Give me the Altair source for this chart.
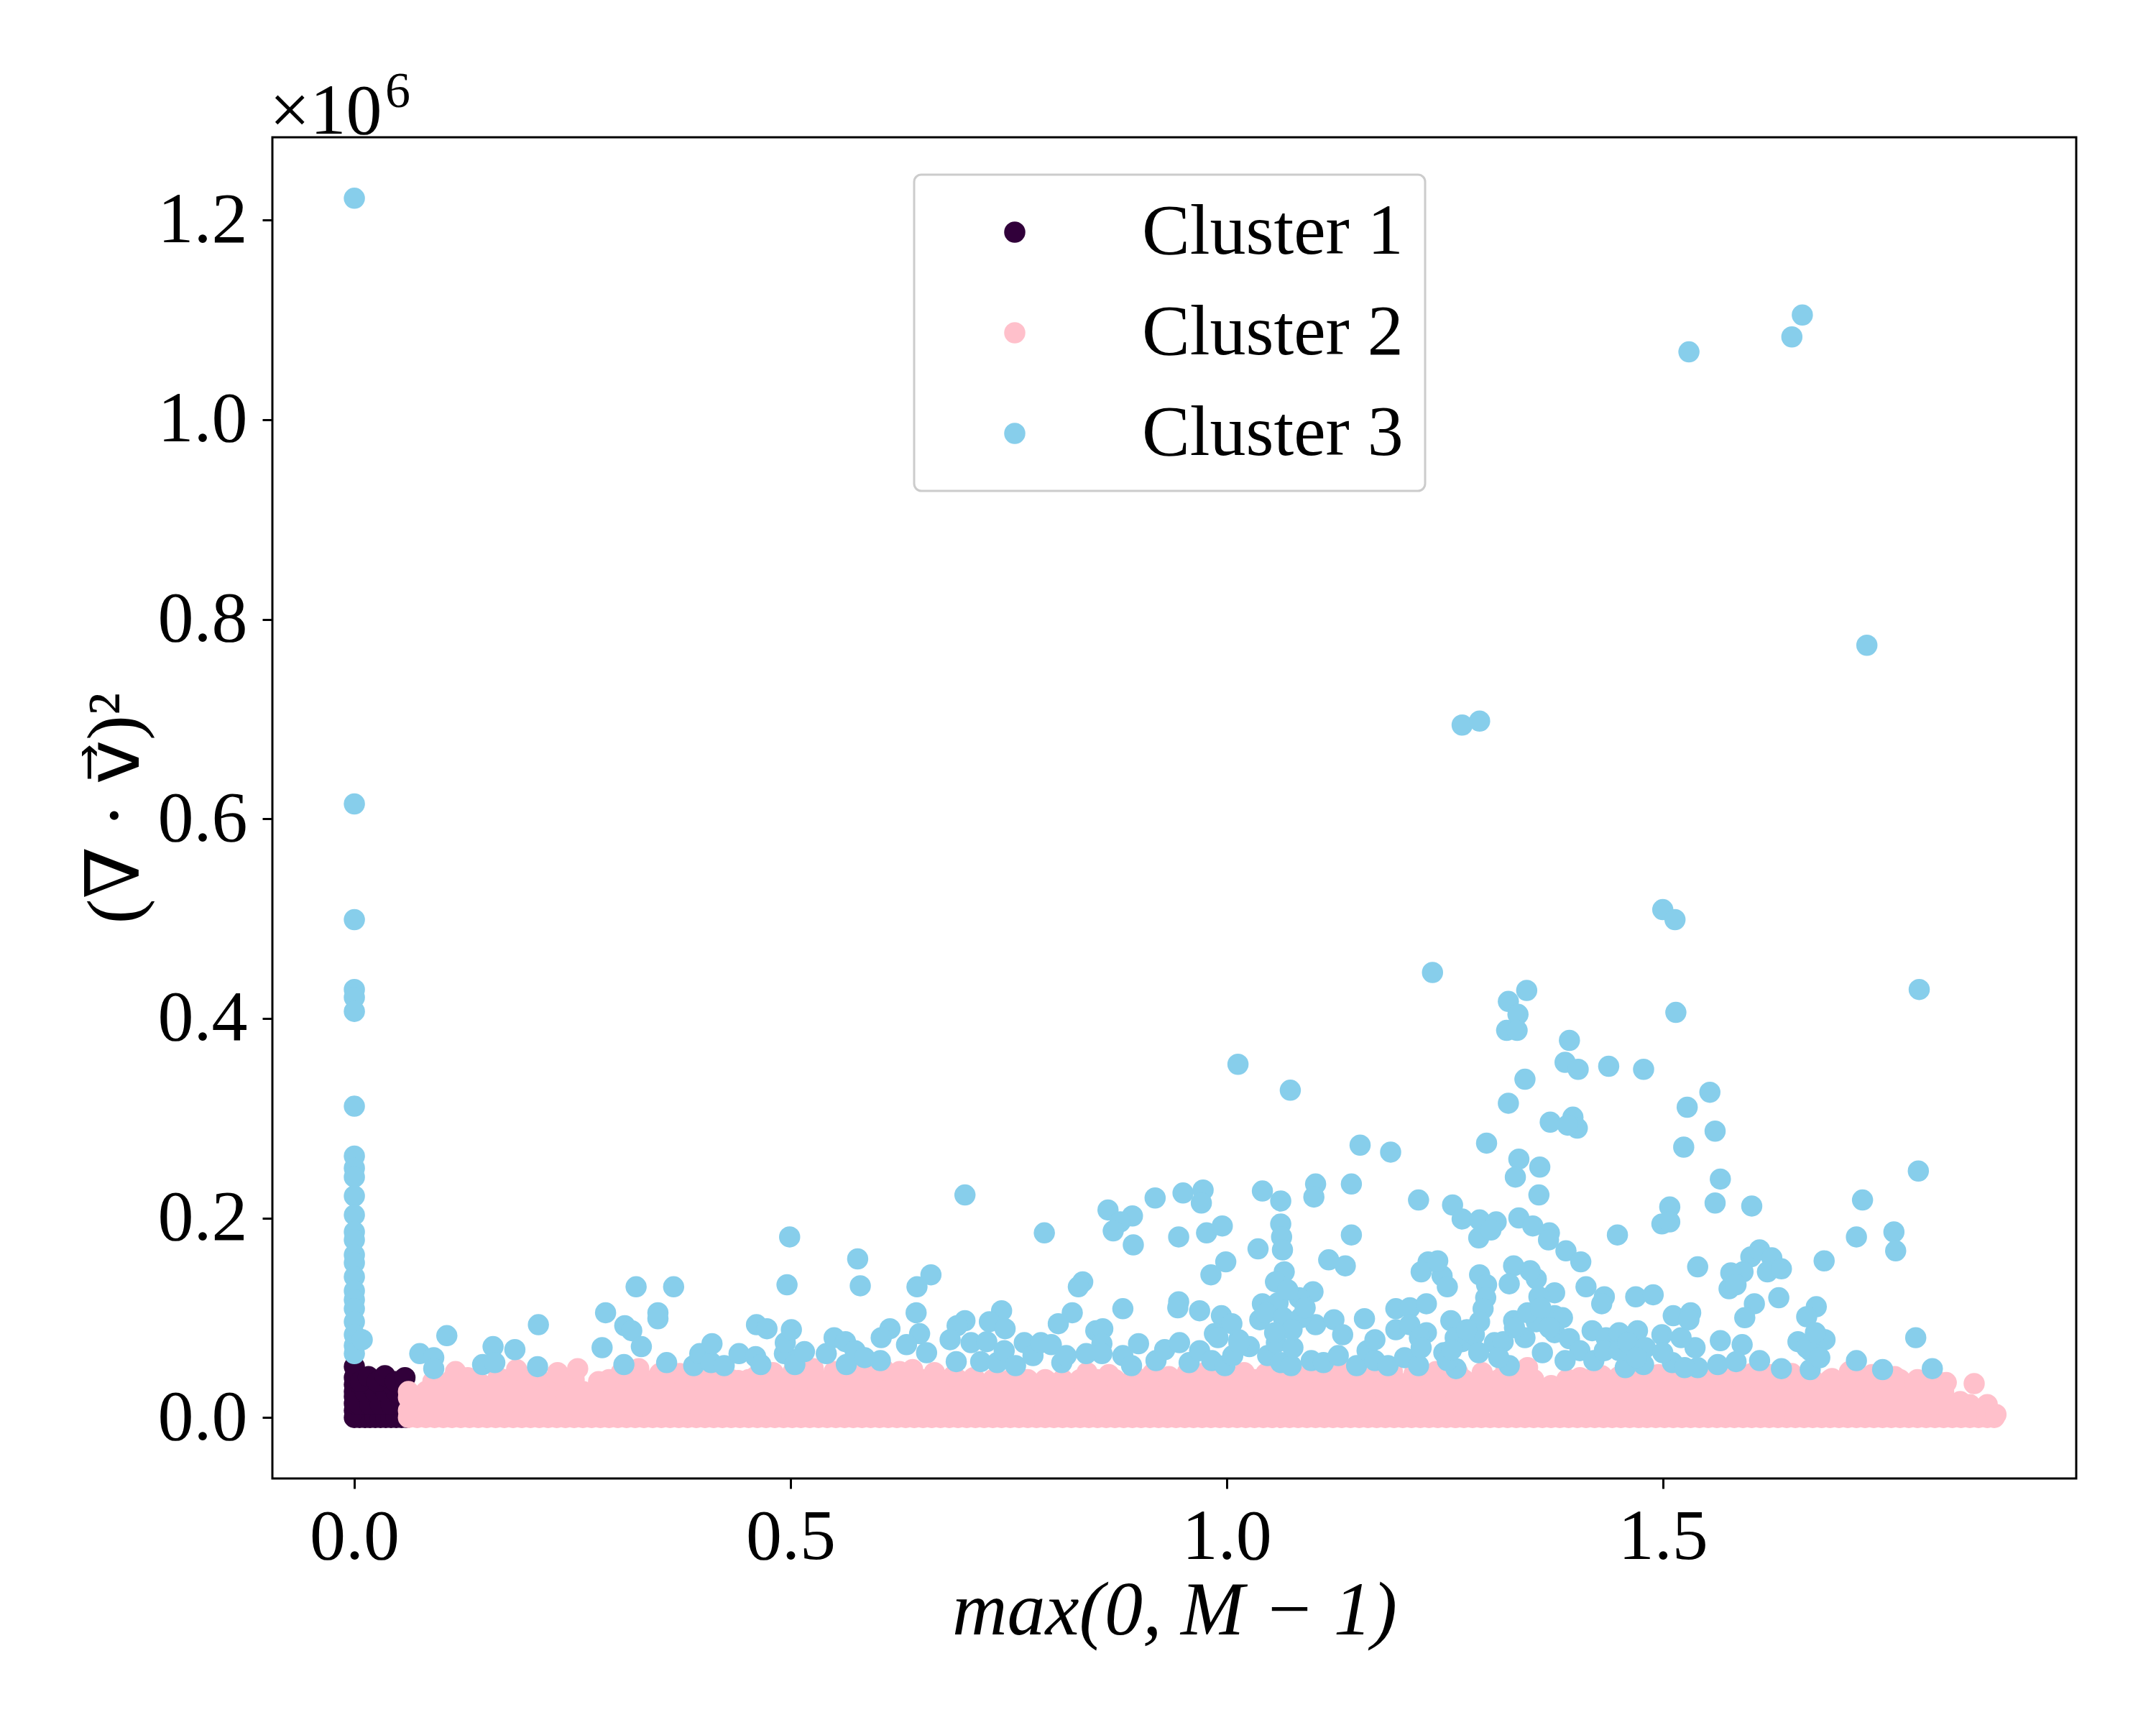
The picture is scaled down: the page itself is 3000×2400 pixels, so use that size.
import altair as alt
import pandas as pd

FONT = "Liberation Serif"
MATH_FONT = "Liberation Serif, DejaVu Serif, DejaVu Sans"
CLUSTERS = ["Cluster 1", "Cluster 2", "Cluster 3"]
COLORS = ["#31003a", "#ffc0cb", "#87ceeb"]
X_TICKS = [0.0, 0.5, 1.0, 1.5]
Y_TICKS = [0.0, 0.2, 0.4, 0.6, 0.8, 1.0, 1.2]

# ---- Cluster 1 (dark block near the origin), values in units of 1e6 on y
c1_points = [
    (0.0, 0.0), (0.006, 0.0), (0.012, 0.0), (0.018, 0.0), (0.024, 0.0), (0.030, 0.0),
    (0.036, 0.0), (0.042, 0.0), (0.048, 0.0), (0.054, 0.0), (0.060, 0.0),
    (0.0, 0.007), (0.0, 0.014), (0.0, 0.021), (0.0, 0.033),
    (0.006, 0.013), (0.018, 0.013), (0.030, 0.013), (0.042, 0.013), (0.054, 0.013),
    (0.0, 0.026), (0.012, 0.026), (0.024, 0.026), (0.036, 0.026), (0.048, 0.026), (0.060, 0.026),
    (0.006, 0.034), (0.018, 0.034), (0.030, 0.034), (0.042, 0.034), (0.054, 0.034),
    (0.0, 0.040), (0.0, 0.051), (0.007, 0.036), (0.016, 0.041), (0.026, 0.036),
    (0.035, 0.042), (0.047, 0.036), (0.058, 0.040),
]

# ---- Cluster 2 (dense pink band)
pink_row_y = [0.0, 0.013, 0.026, 0.038]
pink_rows_x = [
    [0.062, 0.072, 0.082, 0.092, 0.102, 0.112, 0.122, 0.132, 0.142, 0.152,
     0.162, 0.172, 0.182, 0.192, 0.202, 0.212, 0.222, 0.232, 0.242, 0.252,
     0.262, 0.272, 0.282, 0.292, 0.302, 0.312, 0.322, 0.332, 0.342, 0.352,
     0.362, 0.372, 0.382, 0.392, 0.402, 0.412, 0.422, 0.432, 0.442, 0.452,
     0.462, 0.472, 0.482, 0.492, 0.502, 0.512, 0.522, 0.532, 0.542, 0.552,
     0.562, 0.572, 0.582, 0.592, 0.602, 0.612, 0.622, 0.632, 0.642, 0.652,
     0.662, 0.672, 0.682, 0.692, 0.702, 0.712, 0.722, 0.732, 0.742, 0.752,
     0.762, 0.772, 0.782, 0.792, 0.802, 0.812, 0.822, 0.832, 0.842, 0.852,
     0.862, 0.872, 0.882, 0.892, 0.902, 0.912, 0.922, 0.932, 0.942, 0.952,
     0.962, 0.972, 0.982, 0.992, 1.002, 1.012, 1.022, 1.032, 1.042, 1.052,
     1.062, 1.072, 1.082, 1.092, 1.102, 1.112, 1.122, 1.132, 1.142, 1.152,
     1.162, 1.172, 1.182, 1.192, 1.202, 1.212, 1.222, 1.232, 1.242, 1.252,
     1.262, 1.272, 1.282, 1.292, 1.302, 1.312, 1.322, 1.332, 1.342, 1.352,
     1.362, 1.372, 1.382, 1.392, 1.402, 1.412, 1.422, 1.432, 1.442, 1.452,
     1.462, 1.472, 1.482, 1.492, 1.502, 1.512, 1.522, 1.532, 1.542, 1.552,
     1.562, 1.572, 1.582, 1.592, 1.602, 1.612, 1.622, 1.632, 1.642, 1.652,
     1.662, 1.672, 1.682, 1.692, 1.702, 1.712, 1.722, 1.732, 1.742, 1.752,
     1.762, 1.772, 1.782, 1.792, 1.802, 1.812, 1.822, 1.832, 1.842, 1.852,
     1.862, 1.872, 1.880],
    [0.072, 0.092, 0.112, 0.132, 0.152, 0.172, 0.192, 0.212, 0.232, 0.252,
     0.272, 0.292, 0.312, 0.332, 0.352, 0.372, 0.392, 0.412, 0.432, 0.452,
     0.472, 0.492, 0.512, 0.532, 0.552, 0.572, 0.592, 0.612, 0.632, 0.652,
     0.672, 0.692, 0.712, 0.732, 0.752, 0.772, 0.792, 0.812, 0.832, 0.852,
     0.872, 0.892, 0.912, 0.932, 0.952, 0.972, 0.992, 1.012, 1.032, 1.052,
     1.072, 1.092, 1.112, 1.132, 1.152, 1.172, 1.192, 1.212, 1.232, 1.252,
     1.272, 1.292, 1.312, 1.332, 1.352, 1.372, 1.392, 1.412, 1.432, 1.452,
     1.472, 1.492, 1.512, 1.532, 1.552, 1.572, 1.592, 1.612, 1.632, 1.652,
     1.672, 1.692, 1.712, 1.732, 1.752, 1.772, 1.792, 1.812, 1.832, 1.852,
     1.872],
    [0.062, 0.082, 0.102, 0.122, 0.142, 0.162, 0.182, 0.202, 0.222, 0.242,
     0.262, 0.282, 0.302, 0.322, 0.342, 0.362, 0.382, 0.402, 0.422, 0.442,
     0.462, 0.482, 0.502, 0.522, 0.542, 0.562, 0.582, 0.602, 0.622, 0.642,
     0.662, 0.682, 0.702, 0.722, 0.742, 0.762, 0.782, 0.802, 0.822, 0.842,
     0.862, 0.882, 0.902, 0.922, 0.942, 0.962, 0.982, 1.002, 1.022, 1.042,
     1.062, 1.082, 1.102, 1.122, 1.142, 1.162, 1.182, 1.202, 1.222, 1.242,
     1.262, 1.282, 1.302, 1.322, 1.342, 1.362, 1.382, 1.402, 1.422, 1.442,
     1.462, 1.482, 1.502, 1.522, 1.542, 1.562, 1.582, 1.602, 1.622, 1.642,
     1.662, 1.682, 1.702, 1.722, 1.742, 1.762, 1.782, 1.802, 1.822],
    [0.092, 0.112, 0.132, 0.172, 0.192, 0.212, 0.232, 0.252,
     0.292, 0.312, 0.332, 0.352, 0.372, 0.392, 0.412, 0.432, 0.452,
     0.472, 0.492, 0.512, 0.532, 0.552, 0.572, 0.592, 0.612, 0.632, 0.652,
     0.672, 0.692, 0.712, 0.732, 0.752, 0.772, 0.792, 0.812, 0.832, 0.852,
     0.872, 0.892, 0.912, 0.932, 0.952, 0.972, 0.992, 1.012, 1.032, 1.052,
     1.072, 1.092, 1.112, 1.132, 1.152, 1.172, 1.192, 1.212, 1.232, 1.252,
     1.272, 1.292, 1.312, 1.332, 1.352, 1.392, 1.412, 1.432, 1.452,
     1.472, 1.492, 1.512, 1.532, 1.552, 1.572, 1.592, 1.612, 1.632, 1.652,
     1.672, 1.692, 1.712, 1.732, 1.752, 1.772, 1.792, 1.812],
]
pink_edge = [
    (0.090, 0.036), (0.116, 0.046), (0.130, 0.040), (0.146, 0.033), (0.165, 0.040),
    (0.186, 0.048), (0.205, 0.042), (0.233, 0.045), (0.256, 0.049), (0.280, 0.036),
    (0.306, 0.045), (0.326, 0.049), (0.350, 0.044), (0.373, 0.044), (0.395, 0.040),
    (0.418, 0.041), (0.440, 0.037), (0.460, 0.041), (0.480, 0.045), (0.503, 0.046),
    (0.526, 0.049), (0.550, 0.046), (0.573, 0.048), (0.590, 0.045), (0.607, 0.048),
    (0.625, 0.046), (0.640, 0.048), (0.665, 0.045), (0.687, 0.042), (0.710, 0.040),
    (0.740, 0.036), (0.760, 0.037), (0.773, 0.034), (0.795, 0.036), (0.814, 0.035),
    (0.840, 0.045), (0.865, 0.043), (0.894, 0.042), (0.915, 0.044), (0.934, 0.041),
    (0.955, 0.045), (0.975, 0.045), (1.000, 0.046), (1.020, 0.045), (1.045, 0.044),
    (1.070, 0.046), (1.095, 0.045), (1.120, 0.047), (1.142, 0.047), (1.165, 0.045),
    (1.190, 0.046), (1.215, 0.044), (1.240, 0.046), (1.265, 0.045), (1.293, 0.045),
    (1.320, 0.047), (1.345, 0.050), (1.372, 0.032), (1.390, 0.038), (1.405, 0.040),
    (1.430, 0.042), (1.450, 0.041), (1.471, 0.040), (1.495, 0.043), (1.515, 0.044),
    (1.536, 0.044), (1.560, 0.043), (1.580, 0.045), (1.602, 0.044), (1.625, 0.043),
    (1.648, 0.044), (1.668, 0.042), (1.694, 0.039), (1.714, 0.046), (1.740, 0.043),
    (1.766, 0.041), (1.789, 0.035), (1.808, 0.034), (1.825, 0.035), (1.841, 0.016),
    (1.857, 0.034), (1.871, 0.009), (1.882, 0.003), (0.062, 0.007), (0.062, 0.020),
]

# ---- Cluster 3 (sky blue outliers)
c3_column = [
    (0.0, 1.222), (0.0, 0.615), (0.0, 0.499), (0.0, 0.429), (0.0, 0.421), (0.0, 0.407),
    (0.0, 0.312), (0.0, 0.262), (0.0, 0.250), (0.0, 0.241), (0.0, 0.222), (0.0, 0.203),
    (0.0, 0.186), (0.0, 0.178), (0.0, 0.163), (0.0, 0.155), (0.0, 0.141), (0.0, 0.127),
    (0.0, 0.118), (0.0, 0.109), (0.0, 0.096), (0.0, 0.083), (0.0, 0.072), (0.0, 0.064),
    (0.009, 0.078),
]
c3_left = [
    (0.075, 0.064), (0.091, 0.060), (0.091, 0.049), (0.106, 0.082), (0.147, 0.053),
    (0.159, 0.071), (0.161, 0.055), (0.184, 0.068), (0.210, 0.051), (0.211, 0.093),
    (0.284, 0.070), (0.288, 0.105), (0.309, 0.053), (0.310, 0.092), (0.318, 0.087),
    (0.323, 0.131), (0.329, 0.071), (0.348, 0.105), (0.348, 0.099), (0.358, 0.055),
    (0.366, 0.131), (0.389, 0.052), (0.396, 0.064), (0.409, 0.055), (0.410, 0.074),
    (0.424, 0.052), (0.441, 0.064), (0.460, 0.061), (0.461, 0.093), (0.466, 0.053),
    (0.473, 0.089), (0.493, 0.064), (0.494, 0.075), (0.496, 0.133), (0.499, 0.181),
    (0.501, 0.088), (0.505, 0.053), (0.516, 0.066), (0.541, 0.064), (0.550, 0.080),
    (0.564, 0.053),
]
c3_mid = [
    (1.073, 0.328), (1.153, 0.273), (1.188, 0.266), (0.700, 0.223), (1.102, 0.234),
    (1.100, 0.221), (1.143, 0.234), (1.041, 0.227), (1.062, 0.217), (1.062, 0.194),
    (1.063, 0.181), (1.064, 0.168), (1.036, 0.169), (1.143, 0.183), (1.220, 0.218),
    (0.918, 0.220), (0.950, 0.225), (0.973, 0.228), (0.971, 0.215), (0.864, 0.208),
    (0.892, 0.202), (0.878, 0.196), (0.870, 0.187), (0.893, 0.173), (0.791, 0.185),
    (0.945, 0.181), (0.977, 0.185), (0.995, 0.192), (0.999, 0.156), (0.982, 0.143),
    (1.066, 0.146), (1.056, 0.136), (1.117, 0.158), (1.136, 0.152), (1.231, 0.156),
    (1.223, 0.146), (0.577, 0.159), (0.580, 0.132), (0.661, 0.143), (0.645, 0.131),
    (0.644, 0.105), (0.648, 0.084), (0.633, 0.073), (0.656, 0.065), (0.614, 0.089),
    (0.604, 0.080), (0.835, 0.136), (0.830, 0.131), (0.823, 0.105), (0.807, 0.094),
    (0.881, 0.109), (0.945, 0.116), (0.944, 0.110), (0.969, 0.107), (0.994, 0.102),
    (1.006, 0.094), (1.099, 0.126), (1.041, 0.114), (1.059, 0.115), (1.038, 0.098),
    (1.083, 0.120), (1.102, 0.093), (1.123, 0.098), (1.158, 0.099), (1.194, 0.109),
    (1.210, 0.110), (1.229, 0.114), (1.194, 0.088), (1.210, 0.093), (1.229, 0.085),
    (1.221, 0.080), (0.700, 0.097), (0.691, 0.092), (0.742, 0.107), (0.728, 0.096),
    (0.746, 0.089), (0.850, 0.087), (0.858, 0.089), (0.986, 0.084), (1.014, 0.078),
    (1.026, 0.071), (0.563, 0.076), (0.574, 0.067), (0.585, 0.060), (0.603, 0.057),
    (0.683, 0.078), (0.690, 0.056), (0.707, 0.075), (0.725, 0.076), (0.718, 0.056),
    (0.737, 0.055), (0.745, 0.067), (0.758, 0.052), (0.768, 0.075), (0.778, 0.062),
    (0.787, 0.075), (0.799, 0.073), (0.811, 0.055), (0.816, 0.062), (0.839, 0.064),
    (0.857, 0.074), (0.857, 0.064), (0.881, 0.062), (0.891, 0.052), (0.899, 0.074),
    (0.919, 0.057), (0.929, 0.068), (0.946, 0.075), (0.957, 0.055), (0.969, 0.067),
    (0.983, 0.057), (0.998, 0.052), (0.990, 0.080), (1.007, 0.062), (1.014, 0.075),
    (1.047, 0.062), (1.062, 0.055), (1.074, 0.052), (1.057, 0.075), (1.076, 0.070),
    (1.097, 0.057), (1.111, 0.055), (1.128, 0.062), (1.149, 0.052), (1.161, 0.067),
    (1.170, 0.057), (1.185, 0.052), (1.204, 0.060), (1.220, 0.052), (1.223, 0.070),
    (1.133, 0.083), (1.170, 0.078), (1.045, 0.105), (1.065, 0.100), (1.085, 0.100),
    (1.075, 0.088), (1.055, 0.085), (1.090, 0.110), (1.070, 0.128),
]
c3_right = [
    (1.342, 0.339), (1.554, 0.326), (1.323, 0.315), (1.528, 0.311), (1.371, 0.296),
    (1.397, 0.301), (1.402, 0.290), (1.391, 0.293), (1.560, 0.287), (1.298, 0.275),
    (1.524, 0.271), (1.335, 0.259), (1.359, 0.251), (1.331, 0.241), (1.566, 0.239),
    (1.793, 0.247), (1.358, 0.223), (1.560, 0.215), (1.602, 0.212), (1.508, 0.211),
    (1.729, 0.218), (1.259, 0.213), (1.270, 0.199), (1.290, 0.198), (1.309, 0.196),
    (1.289, 0.180), (1.303, 0.188), (1.335, 0.200), (1.351, 0.192), (1.370, 0.185),
    (1.369, 0.178), (1.389, 0.167), (1.406, 0.156), (1.448, 0.183), (1.499, 0.194),
    (1.508, 0.196), (1.722, 0.181), (1.765, 0.186), (1.767, 0.167), (1.685, 0.157),
    (1.540, 0.151), (1.601, 0.161), (1.611, 0.168), (1.625, 0.160), (1.620, 0.146),
    (1.636, 0.149), (1.592, 0.146), (1.578, 0.145), (1.576, 0.129), (1.584, 0.133),
    (1.605, 0.114), (1.633, 0.120), (1.594, 0.100), (1.676, 0.111), (1.665, 0.101),
    (1.790, 0.080), (1.809, 0.049), (1.752, 0.048), (1.722, 0.057), (1.686, 0.078),
    (1.669, 0.067), (1.655, 0.076), (1.669, 0.048), (1.636, 0.049), (1.611, 0.057),
    (1.591, 0.073), (1.566, 0.077), (1.584, 0.056), (1.563, 0.053), (1.540, 0.050),
    (1.537, 0.070), (1.521, 0.080), (1.499, 0.083), (1.512, 0.102), (1.532, 0.105),
    (1.530, 0.098), (1.469, 0.121), (1.489, 0.123), (1.433, 0.121), (1.430, 0.114),
    (1.412, 0.131), (1.376, 0.125), (1.358, 0.121), (1.355, 0.139), (1.348, 0.147),
    (1.329, 0.152), (1.324, 0.134), (1.290, 0.143), (1.298, 0.133), (1.297, 0.120),
    (1.294, 0.109), (1.290, 0.096), (1.257, 0.097), (1.247, 0.142), (1.253, 0.131),
    (1.329, 0.097), (1.355, 0.096), (1.376, 0.102), (1.385, 0.100), (1.376, 0.085),
    (1.342, 0.080), (1.393, 0.079), (1.362, 0.065), (1.419, 0.087), (1.435, 0.080),
    (1.450, 0.085), (1.471, 0.087), (1.405, 0.067), (1.388, 0.057), (1.421, 0.057),
    (1.433, 0.067), (1.457, 0.050), (1.478, 0.053), (1.450, 0.067), (1.511, 0.055),
    (1.525, 0.050), (1.307, 0.075), (1.317, 0.076), (1.324, 0.052), (1.312, 0.060),
    (1.270, 0.076), (1.284, 0.083), (1.289, 0.065), (1.249, 0.065), (1.263, 0.049),
    (1.242, 0.157), (1.253, 0.057), (1.262, 0.080), (1.275, 0.088), (1.258, 0.068),
    (1.330, 0.090), (1.345, 0.105), (1.360, 0.110), (1.370, 0.090), (1.460, 0.075),
    (1.480, 0.070), (1.500, 0.065), (1.470, 0.060), (1.665, 0.070), (1.680, 0.060),
    (1.675, 0.085),
]
c3_upper = [
    (1.530, 1.068), (1.648, 1.083), (1.660, 1.105), (1.734, 0.774), (1.270, 0.694),
    (1.290, 0.698), (1.500, 0.509), (1.514, 0.499), (1.236, 0.446), (1.794, 0.429),
    (1.344, 0.428), (1.323, 0.417), (1.334, 0.404), (1.321, 0.388), (1.333, 0.388),
    (1.515, 0.406), (1.393, 0.378), (1.388, 0.356), (1.403, 0.349), (1.438, 0.352),
    (1.478, 0.349), (1.013, 0.354),
]

# ---- build the table (draw order: cluster 1, cluster 2, cluster 3)
rows = []
def add(points, label):
    for px, py in points:
        rows.append({"x": px, "y": py, "cluster": label, "idx": len(rows)})

add(c1_points, "Cluster 1")
for ry, xs in zip(pink_row_y, pink_rows_x):
    add([(v, ry) for v in xs], "Cluster 2")
add(pink_edge, "Cluster 2")
for part in (c3_column, c3_left, c3_mid, c3_right, c3_upper):
    add(part, "Cluster 3")
df = pd.DataFrame(rows)

MARKER = 870  # vega symbol size = diameter^2 for circles

points = alt.Chart(df).mark_circle(size=MARKER, opacity=1, fillOpacity=1, strokeWidth=0).encode(
    x=alt.X(
        "x:Q",
        scale=alt.Scale(domain=[-0.094, 1.974], nice=False, zero=False),
        axis=alt.Axis(
            values=X_TICKS, format=".1f", title="max(0, M − 1)",
            titleFontStyle="italic", titleFontSize=106,
            titleX=1255, titleY=216, titleBaseline="alphabetic", titleAlign="center",
            labelPadding=18,
        ),
    ),
    y=alt.Y(
        "y:Q",
        scale=alt.Scale(domain=[-0.0611, 1.2831], nice=False, zero=False),
        axis=alt.Axis(
            values=Y_TICKS, format=".1f", title="(∇ · v\u20d7)²",
            titleFont=MATH_FONT, titleAngle=270, titleFontSize=104,
            titleX=-187, titleY=933, titleBaseline="alphabetic", titleAlign="center",
            labelPadding=21,
        ),
    ),
    color=alt.Color(
        "cluster:N",
        scale=alt.Scale(domain=CLUSTERS, range=COLORS),
        legend=alt.Legend(
            title=None, orient="none", legendX=893, legendY=52,
            labelFont=FONT, labelFontSize=100, labelColor="black", labelLimit=0,
            symbolType="circle", symbolSize=MARKER, symbolStrokeWidth=0,
            symbolOffset=60, labelOffset=127, rowPadding=40, padding=30,
            strokeColor="#cccccc", fillColor="white", cornerRadius=10,
        ),
    ),
    order=alt.Order("idx:Q"),
)

exp_base = alt.Chart(pd.DataFrame({"t": ["×10"]})).mark_text(
    font=MATH_FONT, fontSize=100, align="left", baseline="alphabetic", color="black"
).encode(x=alt.value(-4), y=alt.value(-5), text="t:N")

exp_sup = alt.Chart(pd.DataFrame({"t": ["6"]})).mark_text(
    font=FONT, fontSize=70, align="left", baseline="alphabetic", color="black"
).encode(x=alt.value(157), y=alt.value(-42), text="t:N")

chart = alt.layer(points, exp_base, exp_sup).properties(
    width=2510, height=1866,
    autosize=alt.AutoSizeParams(type="none"),
    padding={"left": 371, "top": 183, "right": 103, "bottom": 335},
).configure_view(
    stroke="black", strokeWidth=3
).configure_axis(
    grid=False, domain=False,
    labelFont=FONT, labelFontSize=100, labelColor="black",
    titleFont=FONT, titleFontWeight="normal", titleColor="black",
    tickColor="black", tickWidth=3, tickSize=14,
).configure_legend(
    strokeWidth=3
)

chart.save("out.html", embed_options={"renderer": "svg", "actions": False})
